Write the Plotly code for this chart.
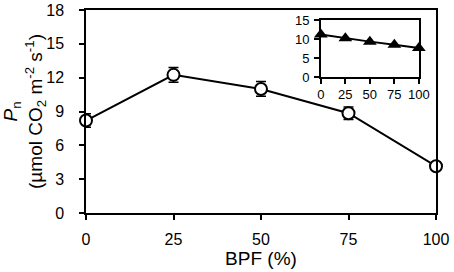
import plotly.graph_objects as go

bpf = [0, 25, 50, 75, 100]
pn = [8.2, 12.25, 11.0, 8.85, 4.15]
pn_err = [0.6, 0.65, 0.65, 0.55, 0.3]
inset_vals = [11.2, 10.2, 9.3, 8.5, 7.6]
x_ticks = [0, 25, 50, 75, 100]
y_ticks = [0, 3, 6, 9, 12, 15, 18]
inset_y_ticks = [0, 5, 10, 15]

FONT = "Liberation Sans, Arial, sans-serif"

fig = go.Figure()
fig.add_trace(go.Scatter(
    x=bpf, y=pn, mode="lines+markers",
    line=dict(color="black", width=2),
    marker=dict(symbol="circle", size=12, color="white", line=dict(color="black", width=2)),
    error_y=dict(type="data", array=pn_err, color="black", thickness=1.5, width=5),
    cliponaxis=False, showlegend=False,
))
fig.add_trace(go.Scatter(
    x=bpf, y=inset_vals, mode="lines+markers",
    xaxis="x2", yaxis="y2",
    line=dict(color="black", width=2),
    marker=dict(symbol="triangle-up", size=12, color="black"),
    cliponaxis=False, showlegend=False,
))

axis_common = dict(showgrid=False, zeroline=False, showline=True, linecolor="black",
                   linewidth=1.5, mirror=True, ticks="outside", tickcolor="black",
                   tickwidth=1.5, ticklen=5, automargin=False)

fig.update_layout(
    width=454, height=272,
    margin=dict(l=86, r=18, t=10, b=59),
    paper_bgcolor="white", plot_bgcolor="white",
    font=dict(family=FONT, size=16, color="black"),
    xaxis=dict(range=[0, 100], tickvals=x_ticks, domain=[0, 1], ticklabelstandoff=6,
               title=dict(text="BPF (%)", standoff=2), **axis_common),
    yaxis=dict(range=[0, 18], tickvals=y_ticks, domain=[0, 1], ticklabelstandoff=12,
               title=dict(text="<i>P</i><sub>n</sub><br>(µmol CO<sub>2</sub> m<sup>-2</sup> s<sup>-1</sup>)",
                          standoff=4), **axis_common),
    xaxis2=dict(range=[0, 100], tickvals=x_ticks, domain=[0.671, 0.951], anchor="y2",
                tickfont=dict(size=13), ticklabelstandoff=0, **axis_common),
    yaxis2=dict(range=[0, 15], tickvals=inset_y_ticks, domain=[0.670, 0.951], anchor="x2",
                tickfont=dict(size=13), ticklabelstandoff=2, **axis_common),
)

fig.write_html("out.html", config={"displayModeBar": False},
               post_script="document.body.style.margin='0';document.body.style.overflow='hidden';")
